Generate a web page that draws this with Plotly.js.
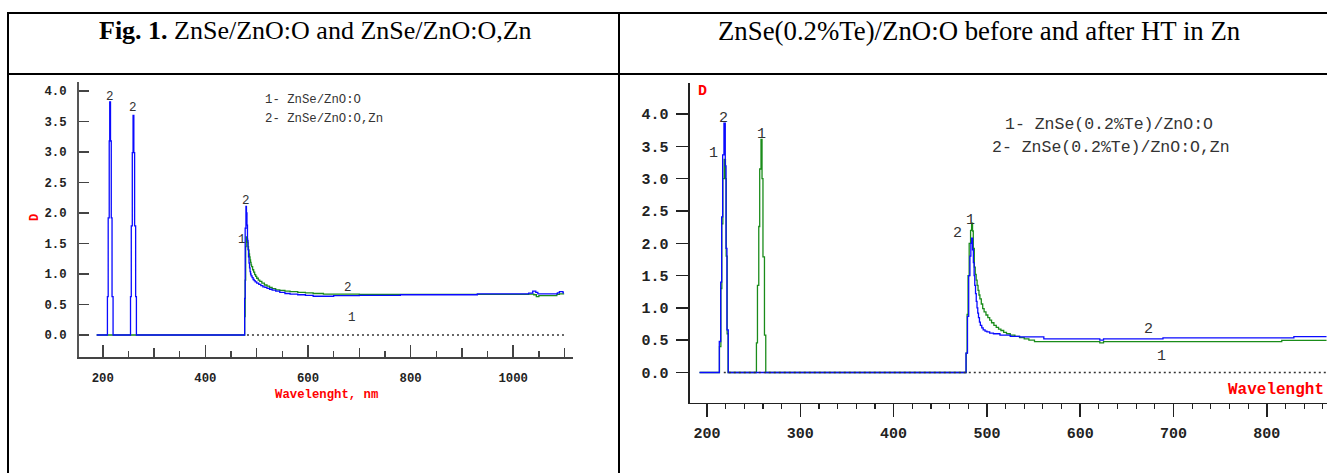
<!DOCTYPE html>
<html>
<head>
<meta charset="utf-8">
<script src="https://cdn.plot.ly/plotly-3.0.1.min.js"></script>
<style>
  html, body { margin: 0; padding: 0; background: #fff; }
  #chart { width: 1327px; height: 473px; }
</style>
</head>
<body>
<div id="chart"></div>
<script>
// ---------------- DATA ----------------
// Left panel: ZnSe/ZnO:O (1, green) and ZnSe/ZnO:O,Zn (2, blue)
const leftGreenX = [188, 476.5, 477.5, 478.5, 479.5, 481, 482, 483, 484, 485, 486, 487, 488, 489, 490, 492, 494, 496, 498, 500, 503, 506, 510, 515, 520, 525, 530, 537, 545, 555, 565, 580, 595, 610, 630, 700, 1030, 1040, 1045, 1050, 1085, 1090, 1098];
const leftGreenY = [0, 0.3, 0.9, 1.45, 1.61, 1.58, 1.52, 1.45, 1.39, 1.33, 1.28, 1.23, 1.19, 1.15, 1.12, 1.07, 1.03, 0.99, 0.96, 0.93, 0.9, 0.88, 0.85, 0.82, 0.8, 0.78, 0.76, 0.74, 0.73, 0.72, 0.71, 0.70, 0.69, 0.68, 0.67, 0.665, 0.67, 0.66, 0.63, 0.645, 0.665, 0.675, 0.665];
const leftBlueX = [188, 209, 210.5, 212.5, 213.5, 215, 216.5, 218, 220, 254, 255.5, 257.5, 259, 260.5, 262, 264, 265.5, 476.5, 477.5, 479, 480, 481, 482, 483, 484, 485, 486, 487, 488, 489, 491, 493, 495, 497, 500, 504, 508, 512, 516, 520, 525, 530, 537, 545, 555, 565, 580, 595, 610, 650, 700, 780, 930, 1030, 1038, 1044, 1048, 1086, 1090, 1097, 1099];
const leftBlueY = [0, 0.63, 1.92, 3.18, 3.82, 3.18, 1.92, 0.63, 0, 0.63, 1.79, 2.99, 3.6, 2.99, 1.79, 0.63, 0, 0.6, 1.75, 2.11, 2.0, 1.8, 1.55, 1.4, 1.28, 1.18, 1.1, 1.04, 1.0, 0.97, 0.94, 0.91, 0.89, 0.87, 0.85, 0.83, 0.81, 0.79, 0.78, 0.765, 0.75, 0.735, 0.72, 0.70, 0.68, 0.67, 0.66, 0.65, 0.635, 0.645, 0.65, 0.66, 0.675, 0.685, 0.72, 0.70, 0.675, 0.69, 0.71, 0.69, 0.69];
const leftBaseX = [481, 1101];
const leftBaseY = [0, 0];
const leftLabelText = ['2', '2', '2', '1', '2', '1'];
const leftLabelX = [214, 258, 480, 471, 678, 686];
const leftLabelY = [3.9, 3.72, 2.2, 1.56, 0.77, 0.28];
const leftLegend = ['1- ZnSe/ZnO:O', '2- ZnSe/ZnO:O,Zn'];

// Right panel: ZnSe(0.2%Te)/ZnO:O (1, green) and ZnSe(0.2%Te)/ZnO:O,Zn (2, blue)
const rightGreenX = [192, 213.4, 214.9, 215.9, 217, 218.4, 219.8, 220.6, 221.6, 222.6, 253, 254.1, 255.5, 256.5, 257.9, 259, 260, 261.6, 263, 477.8, 478.8, 479.8, 481, 482.5, 483.6, 484.6, 485.4, 486.5, 487.5, 488.5, 489.5, 490.5, 491.5, 492.5, 494, 495.5, 497, 499, 501, 503, 505, 507.5, 510, 512.5, 515, 518, 521, 525, 530, 535, 540, 545, 551, 621, 625, 816, 864];
const rightGreenY = [0, 0.4, 1.3, 2.3, 3.0, 3.3, 3.0, 1.8, 0.6, 0, 0.46, 1.35, 2.26, 3.15, 3.61, 3.0, 1.79, 0.58, 0, 0.3, 0.9, 1.5, 2.0, 2.2, 2.31, 2.19, 1.92, 1.63, 1.52, 1.43, 1.35, 1.27, 1.2, 1.14, 1.06, 0.99, 0.94, 0.89, 0.85, 0.81, 0.77, 0.73, 0.7, 0.67, 0.65, 0.62, 0.6, 0.58, 0.56, 0.54, 0.52, 0.5, 0.478, 0.46, 0.478, 0.497, 0.497];
const rightBlueX = [192, 213.2, 214.7, 215.7, 216.8, 218.2, 219.6, 220.4, 221.4, 222.8, 477.6, 479.2, 480.5, 481.8, 482.8, 483.7, 484.6, 485.5, 486.3, 487, 487.8, 488.6, 489.4, 490.2, 491, 492, 493, 494.5, 496, 498, 500, 503, 507, 514, 525, 535, 561, 621, 625, 688.7, 829, 864];
const rightBlueY = [0, 0.48, 1.4, 2.41, 3.37, 3.86, 3.2, 1.92, 0.66, 0, 0.3, 0.87, 1.5, 1.8, 2.0, 2.08, 1.9, 1.7, 1.5, 1.35, 1.22, 1.1, 1.0, 0.92, 0.85, 0.78, 0.73, 0.69, 0.66, 0.64, 0.63, 0.61, 0.6, 0.58, 0.56, 0.55, 0.52, 0.5, 0.52, 0.535, 0.555, 0.555];
const rightBaseX = [218, 864];
const rightBaseY = [0, 0];
const rightLabelText = ['2', '1', '1', '2', '1', '2', '1'];
const rightLabelX = [217.4, 206.7, 258.6, 469, 482.6, 673, 686.6];
const rightLabelY = [3.93, 3.39, 3.69, 2.15, 2.35, 0.67, 0.245];
const rightLegend = ['1- ZnSe(0.2%Te)/ZnO:O', '2- ZnSe(0.2%Te)/ZnO:O,Zn'];

const headerLeft = '<b>Fig. 1.</b> ZnSe/ZnO:O and ZnSe/ZnO:O,Zn';
const headerRight = 'ZnSe(0.2%Te)/ZnO:O before and after HT in Zn';
const xTitleLeft = 'Wavelenght, nm';
const xTitleRight = 'Wavelenght';
const yTitle = 'D';

// ---------------- LAYOUT HELPERS ----------------
const W = 1327, H = 473;
const px = x => x / W;
const py = y => 1 - y / H;

const BLUE = '#0a0aff';
const GREEN = '#1a8c1a';
const MONO = 'Liberation Mono, Courier New, monospace';
const SERIF = 'Liberation Serif, Times New Roman, serif';

function line(x, y, color, xa, ya) {
  return { type: 'scatter', mode: 'lines', x: x, y: y, xaxis: xa, yaxis: ya,
           line: { color: color, width: 1.3, shape: 'hv' }, hoverinfo: 'skip' };
}

const traces = [
  line(leftGreenX, leftGreenY, GREEN, 'x', 'y'),
  line(leftBlueX, leftBlueY, BLUE, 'x', 'y'),
  { type: 'scatter', mode: 'lines', x: leftBaseX, y: leftBaseY, xaxis: 'x', yaxis: 'y',
    line: { color: '#333', width: 1.3, dash: '2px,3px' }, hoverinfo: 'skip' },
  line(rightGreenX, rightGreenY, GREEN, 'x2', 'y2'),
  line(rightBlueX, rightBlueY, BLUE, 'x2', 'y2'),
  { type: 'scatter', mode: 'lines', x: rightBaseX, y: rightBaseY, xaxis: 'x2', yaxis: 'y2',
    line: { color: '#333', width: 1.3, dash: '2px,3px' }, hoverinfo: 'skip' },
  { type: 'scatter', mode: 'lines', x: [null], y: [null], xaxis: 'x3', yaxis: 'y', hoverinfo: 'skip' }
];

const annotations = [];
function addText(text, x, y, opts) {
  annotations.push(Object.assign({ text: text, x: x, y: y, xref: 'paper', yref: 'paper',
    showarrow: false, xanchor: 'center', yanchor: 'middle' }, opts));
}
// headers
addText(headerLeft, px(315), py(31), { font: { family: SERIF, size: 26, color: '#000' } });
addText(headerRight, px(979), py(31), { font: { family: SERIF, size: 26.8, color: '#000' } });
// legends
addText(leftLegend[0], px(263), py(100), { xanchor: 'left', font: { family: MONO, size: 12.3, color: '#333' } });
addText(leftLegend[1], px(263), py(119), { xanchor: 'left', font: { family: MONO, size: 12.3, color: '#333' } });
addText(rightLegend[0], px(1003), py(124.3), { xanchor: 'left', font: { family: MONO, size: 16.5, color: '#333' } });
addText(rightLegend[1], px(990), py(147.7), { xanchor: 'left', font: { family: MONO, size: 16.5, color: '#333' } });
// axis titles
addText(xTitleLeft, px(326.5), py(395), { font: { family: MONO, size: 12.3, color: '#ff0000', weight: 'bold' } });
addText(yTitle, px(35), py(218), { textangle: -90, font: { family: MONO, size: 12, color: '#ff0000', weight: 'bold' } });
addText(xTitleRight, px(1226), py(390), { xanchor: 'left', font: { family: MONO, size: 16, color: '#ff0000', weight: 'bold' } });
addText(yTitle, px(702), py(92), { font: { family: MONO, size: 15, color: '#ff0000', weight: 'bold' } });
// curve labels
leftLabelText.forEach((t, i) => annotations.push({ text: t, x: leftLabelX[i], y: leftLabelY[i], xref: 'x', yref: 'y',
  showarrow: false, font: { family: MONO, size: 12.5, color: '#333' } }));
rightLabelText.forEach((t, i) => annotations.push({ text: t, x: rightLabelX[i], y: rightLabelY[i], xref: 'x2', yref: 'y2',
  showarrow: false, font: { family: MONO, size: 15, color: '#333' } }));

// table lines
const shapes = [];
function seg(x0, y0, x1, y1, w) {
  shapes.push({ type: 'line', xref: 'paper', yref: 'paper', x0: px(x0), y0: py(y0), x1: px(x1), y1: py(y1),
    line: { color: '#000', width: w } });
}
seg(7, 13, W, 13, 2);
seg(8, 13, 8, H, 2);
seg(619, 13, 619, H, 2);
seg(8, 74, W, 74, 2);

const tickFontL = { family: MONO, size: 12.3, color: '#222', weight: 'bold' };
const tickFontR = { family: MONO, size: 15, color: '#222', weight: 'bold' };

const layout = {
  width: W, height: H,
  margin: { l: 0, r: 0, t: 0, b: 0 },
  paper_bgcolor: '#fff', plot_bgcolor: 'rgba(0,0,0,0)',
  showlegend: false,
  xaxis: {
    domain: [px(79), px(573)], range: [153.6, 1116.5], anchor: 'y',
    showline: true, linecolor: '#444', linewidth: 2, mirror: false,
    ticks: 'inside', ticklen: 12, tickwidth: 1.5, tickcolor: '#444',
    tick0: 0, dtick: 200, tickfont: tickFontL, ticklabelstandoff: 8,
    minor: { ticks: 'inside', dtick: 50, ticklen: 6, tickwidth: 1.3, tickcolor: '#444', showgrid: false },
    showgrid: false, zeroline: false
  },
  xaxis3: {
    domain: [px(79), px(573)], range: [153.6, 1116.5], anchor: 'y', overlaying: 'x',
    showline: false, ticks: 'inside', ticklen: 9, tickwidth: 1.3, tickcolor: '#444',
    tick0: 0, dtick: 100, showticklabels: false, showgrid: false, zeroline: false
  },
  yaxis: {
    domain: [py(357), py(82)], range: [-0.3607, 4.1475], anchor: 'x',
    showline: true, linecolor: '#555', linewidth: 2,
    ticks: 'inside', ticklen: 10, tickwidth: 1.5, tickcolor: '#444',
    tick0: 0, dtick: 0.5, tickformat: '.1f', tickfont: tickFontL, ticklabelstandoff: 8,
    showgrid: false, zeroline: false
  },
  xaxis2: {
    domain: [px(690), 1], range: [181.8, 864.5], anchor: 'y2',
    showline: true, linecolor: '#222', linewidth: 1.6,
    ticks: 'outside', ticklen: 13, tickwidth: 1.5, tickcolor: '#222',
    tick0: 0, dtick: 100, tickfont: tickFontR, ticklabelstandoff: 3,
    minor: { ticks: 'outside', dtick: 20, ticklen: 5, tickwidth: 1.2, tickcolor: '#222', showgrid: false },
    showgrid: false, zeroline: false
  },
  yaxis2: {
    domain: [py(402.7), py(83)], range: [-0.4675, 4.4814], anchor: 'x2',
    showline: true, linecolor: '#222', linewidth: 1.6,
    ticks: 'outside', ticklen: 12, tickwidth: 1.5, tickcolor: '#222',
    tick0: 0, dtick: 0.5, tickformat: '.1f', tickfont: tickFontR, ticklabelstandoff: 5,
    showgrid: false, zeroline: false
  },
  annotations: annotations,
  shapes: shapes
};

Plotly.newPlot('chart', traces, layout, { staticPlot: true, displayModeBar: false });
</script>
</body>
</html>
